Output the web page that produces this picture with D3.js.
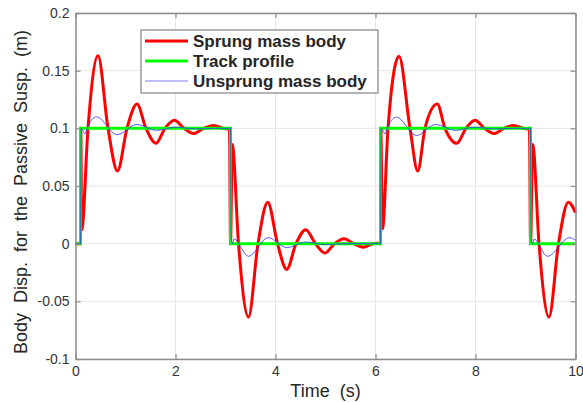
<!DOCTYPE html>
<html>
<head>
<meta charset="utf-8">
<script src="https://cdn.jsdelivr.net/npm/d3@7"></script>
<style>
  body { margin: 0; background: #fff; }
  text { font-family: "Liberation Sans", Arial, sans-serif; }
</style>
</head>
<body>
<script>
// time (s), displacement (m)
const sprung = [
  [0, 0], [0.1, 0], [0.105, 0.1], [0.125, 0.012], [0.25, 0.1], [0.45, 0.163],
  [0.65, 0.1], [0.84, 0.063], [1.03, 0.1], [1.23, 0.121], [1.41, 0.1], [1.61, 0.087],
  [1.79, 0.1], [1.98, 0.107], [2.17, 0.1], [2.36, 0.0955], [2.56, 0.1], [2.76, 0.1025],
  [2.95, 0.1], [3.08, 0.099], [3.1, 0], [3.135, 0.086], [3.26, 0], [3.46, -0.0636],
  [3.65, 0], [3.845, 0.036], [4.04, 0], [4.225, -0.0223], [4.41, 0], [4.605, 0.0121],
  [4.8, 0], [4.99, -0.0081], [5.18, 0], [5.37, 0.0043], [5.56, 0], [5.755, -0.003],
  [5.95, 0], [6.09, 0.0005], [6.1, 0], [6.105, 0.1], [6.14, 0.013], [6.25, 0.1],
  [6.47, 0.1626], [6.69, 0.1], [6.845, 0.063], [6.99, 0.1], [7.235, 0.121], [7.39, 0.1],
  [7.625, 0.087], [7.81, 0.1], [7.99, 0.107], [8.18, 0.1], [8.37, 0.0955], [8.57, 0.1],
  [8.76, 0.1025], [8.95, 0.1], [9.08, 0.099], [9.1, 0], [9.144, 0.086], [9.27, 0],
  [9.47, -0.0636], [9.66, 0], [9.856, 0.036], [10, 0.027]
];

const track = [
  [0, 0], [0.1, 0], [0.1, 0.1], [3.1, 0.1], [3.1, 0], [6.1, 0],
  [6.1, 0.1], [9.1, 0.1], [9.1, 0], [10, 0]
];

const unsprung = [
  [0, 0], [0.1, 0], [0.115, 0.1], [0.19, 0.095], [0.23, 0.1], [0.42, 0.11],
  [0.83, 0.0945], [1.23, 0.1034], [1.62, 0.0982], [2.0, 0.101], [2.4, 0.0995],
  [2.8, 0.1], [3.1, 0.1], [3.115, 0.004], [3.14, 0], [3.17, 0.004], [3.46, -0.011],
  [3.85, 0.0052], [4.23, -0.0035], [4.6, 0.0015], [5.0, -0.0008], [5.4, 0], [6.1, 0],
  [6.115, 0.1], [6.19, 0.095], [6.23, 0.1], [6.42, 0.1097], [6.82, 0.0938],
  [7.2, 0.1034], [7.6, 0.0982], [7.98, 0.101], [8.38, 0.0995], [8.8, 0.1], [9.1, 0.1],
  [9.115, 0.004], [9.14, 0], [9.17, 0.004], [9.44, -0.011], [9.88, 0.0052], [10, 0.003]
];

const xTicks = [0, 2, 4, 6, 8, 10];
const yTicks = [-0.1, -0.05, 0, 0.05, 0.1, 0.15, 0.2];
const legendNames = ["Sprung mass body", "Track profile", "Unsprung mass body"];

const W = 583, H = 403;
const plotL = 75.5, plotR = 575.5, plotT = 13, plotB = 359;

const svg = d3.select("body").append("svg")
  .attr("width", W)
  .attr("height", H);

const x = d3.scaleLinear().domain([0, 10]).range([plotL, plotR]);
const y = d3.scaleLinear().domain([-0.1, 0.2]).range([plotB, plotT]);

// grid
svg.append("g").selectAll("line")
  .data(xTicks)
  .enter().append("line")
  .attr("x1", d => x(d)).attr("x2", d => x(d))
  .attr("y1", plotT).attr("y2", plotB)
  .attr("stroke", "#e6e6e6");

svg.append("g").selectAll("line")
  .data(yTicks)
  .enter().append("line")
  .attr("x1", plotL).attr("x2", plotR)
  .attr("y1", d => y(d)).attr("y2", d => y(d))
  .attr("stroke", "#e6e6e6");

// lines
const smooth = d3.line()
  .x(d => x(d[0])).y(d => y(d[1]))
  .curve(d3.curveMonotoneX);
const straight = d3.line()
  .x(d => x(d[0])).y(d => y(d[1]));

svg.append("path").datum(sprung)
  .attr("d", smooth)
  .attr("fill", "none")
  .attr("stroke", "#ff0000")
  .attr("stroke-width", 3);

svg.append("path").datum(track)
  .attr("d", straight)
  .attr("fill", "none")
  .attr("stroke", "#00ff00")
  .attr("stroke-width", 3);

svg.append("path").datum(unsprung)
  .attr("d", smooth)
  .attr("fill", "none")
  .attr("stroke", "#3333ff")
  .attr("stroke-width", 0.8);

// axes, ticks pointing inward like matlab
const axisColor = "#8c8c8c";
function styleAxis(g) {
  g.selectAll(".domain").attr("stroke", axisColor).attr("stroke-width", 1.5);
  g.selectAll(".tick line").attr("stroke", axisColor).attr("stroke-width", 1.2);
  g.selectAll(".tick text")
    .attr("fill", "#333")
    .attr("font-size", "14px")
    .attr("font-family", "Liberation Sans, Arial, sans-serif");
}

svg.append("g")
  .attr("transform", `translate(0,${plotB})`)
  .call(d3.axisBottom(x).tickValues(xTicks).tickFormat(d => String(d))
    .tickSizeInner(-5).tickSizeOuter(0).tickPadding(7))
  .call(styleAxis);

svg.append("g")
  .attr("transform", `translate(${plotL},0)`)
  .call(d3.axisLeft(y).tickValues(yTicks).tickFormat(d => String(d))
    .tickSizeInner(-5).tickSizeOuter(0).tickPadding(6))
  .call(styleAxis);

svg.append("g")
  .attr("transform", `translate(0,${plotT})`)
  .call(d3.axisTop(x).tickValues(xTicks).tickFormat("")
    .tickSizeInner(-5).tickSizeOuter(0))
  .call(styleAxis);

svg.append("g")
  .attr("transform", `translate(${plotR},0)`)
  .call(d3.axisRight(y).tickValues(yTicks).tickFormat("")
    .tickSizeInner(-5).tickSizeOuter(0))
  .call(styleAxis);

// axis titles
svg.append("text")
  .attr("x", (plotL + plotR) / 2).attr("y", 397)
  .attr("text-anchor", "middle")
  .attr("font-size", "18px")
  .attr("fill", "#262626")
  .style("white-space", "pre")
  .text("Time  (s)");

svg.append("text")
  .attr("transform", "translate(27,192) rotate(-90)")
  .attr("text-anchor", "middle")
  .attr("font-size", "18px")
  .attr("fill", "#262626")
  .style("white-space", "pre")
  .text("Body  Disp.  for  the  Passive  Susp.  (m)");

// legend
const legendColors = ["#ff0000", "#00ff00", "#7b7bff"];
const legendWidths = [3, 3, 1];
const lg = svg.append("g");
lg.append("rect")
  .attr("x", 141).attr("y", 30)
  .attr("width", 237).attr("height", 63)
  .attr("fill", "#fff")
  .attr("stroke", "#8c8c8c")
  .attr("stroke-width", 1.3);

legendNames.forEach((name, i) => {
  let ry = 41 + i * 20;
  lg.append("line")
    .attr("x1", 145).attr("x2", 188)
    .attr("y1", ry).attr("y2", ry)
    .attr("stroke", legendColors[i])
    .attr("stroke-width", legendWidths[i]);
  lg.append("text")
    .attr("x", 193).attr("y", ry + 6)
    .attr("font-size", "17px")
    .attr("font-weight", "bold")
    .attr("fill", "#262626")
    .text(name);
});
</script>
</body>
</html>
